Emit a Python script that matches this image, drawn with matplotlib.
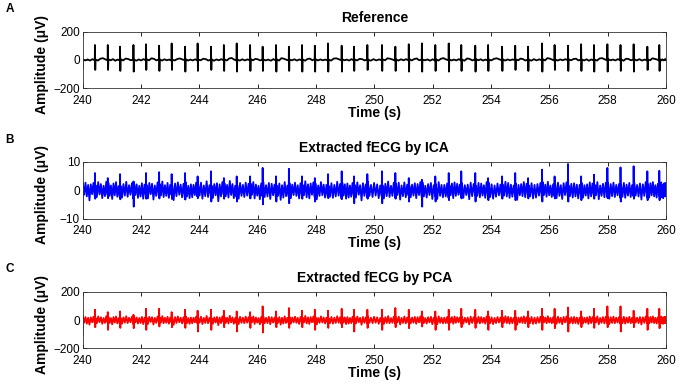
import numpy as np
import matplotlib
matplotlib.use("Agg")
import matplotlib.pyplot as plt

plt.rcParams['font.family'] = ['Liberation Sans', 'DejaVu Sans']

# ---------------- data ----------------
beat_t = [240.42, 240.86, 241.28, 241.74, 242.17, 242.62, 243.05, 243.51, 243.94, 244.40,
          244.84, 245.28, 245.74, 246.17, 246.63, 247.07, 247.52, 247.96, 248.41, 248.88,
          249.30, 249.76, 250.26, 250.72, 251.18, 251.63, 252.09, 252.55, 252.98, 253.46,
          253.90, 254.38, 254.83, 255.27, 255.75, 256.18, 256.64, 257.09, 257.53, 257.99,
          258.44, 258.89, 259.36, 259.77]

# Panel A: reference (uV)
ref_R = [106, 106, 94, 106, 111, 101, 117, 94, 117, 94, 106, 117, 106, 94, 106, 94, 106, 101, 117, 101, 94, 106,
         106, 94, 111, 117, 106, 117, 106, 101, 106, 94, 101, 94, 117, 106, 101, 111, 106, 111, 106, 111, 94, 106]
ref_S = [-70, -70, -77, -82, -70, -77, -70, -82, -77, -70, -77, -82, -77, -77, -82, -77, -82, -82, -82, -82, -77, -70,
         -77, -77, -82, -82, -77, -82, -77, -82, -77, -77, -70, -77, -82, -70, -77, -77, -82, -82, -77, -82, -70, -77]
ref_start, ref_end = -60, 5
ref_wig = [
    [5, -3, 4, -4, 6, -2], [3, -4, 9, 13, 5, -3], [4, -2, 6, -5, 3, -4], [6, -3, 10, 7, -2, 4],
    [3, -5, 4, -3, 6, -2], [5, -2, 12, 8, -3, 5], [4, -4, 5, -2, 3, -5], [2, -3, 7, 11, 4, -2],
    [6, -4, 3, -3, 5, -4], [3, -2, 9, 6, -4, 3], [5, -5, 4, -2, 6, -3], [4, -3, 11, 14, 3, -4],
    [3, -4, 5, -3, 4, -2], [6, -2, 8, 5, -3, 4], [4, -3, 3, -5, 6, -3], [5, -4, 13, 9, 2, -4],
    [3, -2, 5, -4, 4, -3], [4, -5, 7, 10, -2, 5], [6, -3, 4, -2, 3, -4], [3, -4, 10, 12, 5, -2],
    [5, -2, 3, -4, 6, -3], [4, -3, 8, 6, -3, 4], [3, -5, 6, -3, 4, -2], [5, -2, 12, 9, 3, -4],
    [4, -4, 5, -2, 6, -3], [6, -3, 7, 11, -2, 3], [3, -2, 4, -5, 5, -4], [5, -4, 9, 13, 4, -2],
    [4, -3, 3, -3, 6, -3], [3, -5, 11, 7, -3, 5], [6, -2, 5, -4, 3, -4], [4, -3, 8, 12, 5, -3],
    [5, -4, 4, -2, 4, -2], [3, -2, 10, 6, -4, 4], [4, -5, 6, -3, 5, -3], [6, -3, 13, 10, 3, -4],
    [3, -4, 4, -2, 6, -2], [5, -2, 7, 9, -3, 3], [4, -3, 5, -5, 4, -4], [3, -4, 11, 13, 5, -3],
    [6, -2, 3, -3, 6, -2], [4, -5, 9, 7, -2, 4], [5, -3, 6, -4, 3, -3], [3, -2, 12, 8, 4, -4],
    [4, -4, 5, -3, 5, -2]]

# Panel B: ICA (uV)
ica_R = [6.1, 4.3, 5.7, 3.1, 6.1, 6.4, 5.7, 6.1, 4.9, 6.7, 4.3, 4.9, 4.9, 7.9, 4.9, 7.6, 4.9, 4.3, 5.7, 6.7, 4.9, 5.7,
         6.7, 6.1, 4.3, 3.7, 4.9, 6.1, 6.7, 6.1, 4.3, 4.9, 6.1, 4.3, 7.3, 4.9, 9.3, 4.9, 5.5, 7.9, 8.1, 8.5, 6.7, 6.9]
ica_S = [-3.0, -2.8, -3.2, -5.8, -3.0, -2.9, -3.1, -3.3, -2.8, -4.0, -3.0, -4.0, -2.9, -5.0, -4.0, -4.6, -3.0, -4.0,
         -2.8, -3.1, -4.6, -3.0, -4.6, -3.0, -4.0, -5.8, -4.0, -3.5, -2.9, -4.0, -3.5, -3.0, -3.5, -2.9, -4.0, -2.9,
         -4.0, -3.5, -3.0, -2.8, -4.0, -3.0, -3.5, -3.5]
ica_start, ica_end = -8.0, -1.0
ica_wig = [
    [2.4, -1.6, 2.7, -2.2, 1.9, -3.6, 2.1, -1.4, 2.6, -2.0], [1.8, -2.4, 2.9, -1.5, 2.2, -2.8, 1.6, -2.1, 3.0, -1.7],
    [2.6, -2.0, 1.7, -3.1, 2.4, -1.8, 2.9, -2.3, 1.5, -2.6], [1.5, -2.6, 2.2, -1.9, 3.0, -2.3, 1.8, -1.6, 2.5, -2.9],
    [2.8, -1.7, 2.1, -2.7, 1.6, -2.2, 2.5, -3.0, 2.0, -1.8], [1.9, -2.9, 2.6, -1.4, 2.3, -3.3, 1.7, -2.0, 2.8, -2.2],
    [2.2, -1.8, 3.1, -2.4, 1.8, -2.0, 2.6, -2.7, 1.9, -1.6], [1.7, -3.5, 2.4, -2.1, 2.8, -1.6, 2.0, -2.5, 2.3, -2.9],
    [2.9, -2.2, 1.6, -2.8, 2.1, -2.5, 1.9, -1.7, 2.7, -2.3], [2.0, -1.9, 2.7, -3.0, 1.7, -2.1, 3.2, -2.4, 1.8, -2.0],
    [1.6, -2.7, 2.2, -1.8, 2.5, -3.9, 2.1, -2.2, 2.9, -1.5], [2.5, -2.1, 1.9, -2.6, 3.3, -1.7, 2.2, -2.8, 1.6, -2.4],
    [1.8, -3.0, 2.6, -2.0, 1.9, -2.4, 2.7, -1.9, 2.3, -2.6], [2.3, -1.6, 2.9, -2.9, 2.0, -1.9, 1.6, -3.2, 2.4, -2.1],
    [3.0, -2.4, 1.8, -2.2, 2.6, -3.1, 2.3, -1.8, 2.0, -2.7], [1.7, -2.0, 2.4, -3.4, 1.8, -2.6, 2.9, -2.1, 1.7, -2.3],
    [2.6, -2.8, 2.0, -1.7, 2.7, -2.0, 1.8, -2.9, 2.5, -1.9], [1.9, -1.8, 3.2, -2.5, 2.1, -2.9, 2.4, -1.6, 2.8, -2.4],
    [2.4, -3.2, 1.7, -2.0, 2.9, -1.8, 2.0, -2.6, 1.9, -2.2], [1.6, -2.3, 2.5, -2.7, 1.9, -2.2, 3.0, -1.9, 2.2, -3.0],
    [2.7, -1.9, 2.1, -3.0, 2.4, -2.6, 1.7, -2.3, 2.6, -1.8], [2.0, -2.6, 2.8, -1.6, 1.8, -3.6, 2.5, -2.0, 2.1, -2.5],
    [2.9, -2.0, 1.9, -2.4, 2.6, -1.9, 2.1, -2.8, 1.7, -2.2], [1.8, -2.9, 2.3, -2.1, 3.1, -2.4, 1.6, -2.0, 2.7, -2.6],
    [2.2, -1.7, 2.7, -3.3, 1.7, -2.1, 2.8, -2.5, 2.0, -1.9], [1.7, -2.5, 2.0, -1.9, 2.5, -2.8, 2.2, -1.7, 2.9, -2.3],
    [2.8, -2.2, 1.6, -2.6, 2.2, -1.7, 2.6, -3.1, 1.8, -2.0], [2.1, -3.1, 2.9, -2.0, 1.9, -2.5, 1.9, -2.2, 2.4, -2.7],
    [1.9, -1.8, 2.4, -2.8, 2.8, -2.0, 2.3, -1.6, 2.0, -2.4], [2.5, -2.7, 1.8, -1.7, 2.0, -3.2, 2.7, -2.1, 2.2, -1.8],
    [1.6, -2.0, 2.6, -2.5, 2.4, -1.9, 1.8, -2.7, 2.9, -2.2], [2.7, -2.4, 2.1, -3.0, 1.7, -2.3, 2.4, -1.8, 2.0, -2.6],
    [2.0, -1.9, 3.0, -2.2, 2.6, -2.7, 2.0, -2.3, 1.7, -2.0], [2.4, -3.4, 1.9, -1.8, 2.2, -2.1, 2.9, -2.5, 2.3, -1.7],
    [1.8, -2.2, 2.5, -2.9, 1.9, -2.6, 2.2, -1.9, 2.6, -2.8], [2.9, -1.7, 2.0, -2.3, 3.0, -1.8, 1.7, -2.4, 2.1, -2.1],
    [2.2, -2.8, 2.7, -2.0, 1.8, -3.1, 2.5, -1.7, 2.8, -2.4], [1.7, -2.1, 2.3, -2.6, 2.5, -2.2, 2.0, -2.9, 1.9, -2.0],
    [2.6, -2.6, 1.8, -1.9, 2.1, -2.9, 2.8, -2.2, 2.4, -1.8], [2.0, -1.8, 2.9, -3.2, 1.7, -2.0, 2.3, -2.5, 2.7, -2.3],
    [2.5, -3.0, 2.2, -2.1, 2.7, -2.4, 1.9, -1.8, 2.2, -2.7], [1.9, -2.3, 2.6, -2.7, 2.0, -1.9, 2.6, -2.4, 1.8, -2.1],
    [2.8, -1.9, 1.9, -2.2, 2.4, -3.3, 2.1, -2.0, 2.9, -2.5], [2.1, -2.6, 2.5, -1.8, 2.9, -2.2, 1.8, -2.6, 2.3, -1.9],
    [2.3, -2.0, 2.8, -2.5, 1.9, -2.8, 2.4, -2.1, 2.6, -2.2]]

# Panel C: PCA (uV)
pca_R = [74, 57, 62, 38, 81, 81, 57, 74, 67, 74, 67, 62, 57, 98, 62, 86, 67, 74, 67, 81, 74, 74,
         74, 86, 74, 62, 62, 74, 81, 74, 62, 67, 67, 62, 81, 81, 90, 62, 81, 98, 98, 67, 81, 81]
pca_S = [-50, -69, -55, -57, -69, -45, -50, -55, -81, -69, -50, -81, -55, -88, -50, -55, -50, -69, -55, -50, -81, -55,
         -69, -50, -57, -45, -69, -69, -50, -55, -69, -50, -69, -50, -69, -57, -81, -50, -55, -50, -81, -50, -69, -57]
pca_start, pca_end = -110, -20
pca_wig = [
    [30, -18, 22, -25, 17, -32, 20, -15, 24, -21], [16, -22, 27, -14, 21, -26, 15, -20, 28, -17],
    [24, -19, 15, -30, 22, -17, 26, -23, 14, -25], [14, -25, 20, -18, 28, -21, 17, -15, 23, -27],
    [26, -16, 19, -24, 15, -20, 23, -28, 18, -17], [18, -27, 24, -13, 21, -31, 16, -19, 26, -20],
    [20, -17, 29, -22, 17, -19, 24, -25, 18, -15], [15, -33, 22, -20, 26, -15, 18, -23, 21, -27],
    [27, -21, 15, -26, 19, -23, 17, -16, 25, -22], [18, -18, 25, -28, 16, -20, 30, -22, 17, -19],
    [15, -25, 20, -17, 23, -36, 19, -21, 27, -14], [23, -20, 17, -24, 31, -16, 20, -26, 15, -22],
    [17, -28, 24, -19, 18, -22, 25, -18, 21, -24], [21, -15, 27, -27, 19, -18, 15, -30, 22, -20],
    [28, -22, 17, -21, 24, -29, 21, -17, 19, -25], [16, -19, 22, -32, 17, -24, 27, -20, 16, -21],
    [24, -26, 19, -16, 25, -19, 17, -27, 23, -18], [18, -17, 30, -23, 20, -27, 22, -15, 26, -22],
    [22, -30, 16, -19, 27, -17, 19, -24, 18, -20], [15, -21, 23, -25, 18, -20, 28, -18, 20, -28],
    [25, -18, 20, -28, 22, -24, 16, -21, 24, -17], [19, -24, 26, -15, 17, -33, 23, -19, 20, -23],
    [27, -19, 18, -22, 24, -18, 20, -26, 16, -20], [17, -27, 21, -20, 29, -22, 15, -19, 25, -24],
    [20, -16, 25, -31, 16, -20, 26, -23, 19, -18], [16, -23, 19, -18, 23, -26, 21, -16, 27, -21],
    [26, -21, 15, -24, 21, -16, 24, -29, 17, -19], [20, -29, 27, -19, 18, -23, 18, -21, 22, -25],
    [18, -17, 22, -26, 26, -19, 21, -15, 19, -22], [23, -25, 17, -16, 19, -30, 25, -20, 21, -17],
    [15, -19, 24, -23, 22, -18, 17, -25, 27, -21], [25, -22, 20, -28, 16, -21, 22, -17, 19, -24],
    [19, -18, 28, -21, 24, -25, 19, -22, 16, -19], [22, -32, 18, -17, 21, -20, 27, -23, 21, -16],
    [17, -21, 23, -27, 18, -24, 21, -18, 24, -26], [27, -16, 19, -22, 28, -17, 16, -22, 20, -20],
    [21, -26, 25, -19, 17, -29, 23, -16, 26, -22], [16, -20, 21, -24, 23, -21, 19, -27, 18, -19],
    [24, -24, 17, -18, 20, -27, 26, -21, 22, -17], [19, -17, 27, -30, 16, -19, 22, -23, 25, -21],
    [23, -28, 21, -20, 25, -22, 18, -17, 21, -25], [18, -22, 24, -25, 19, -18, 24, -22, 17, -20],
    [26, -18, 18, -21, 22, -31, 20, -19, 27, -23], [20, -24, 23, -17, 27, -21, 17, -24, 21, -18],
    [22, -19, 26, -23, 18, -26, 22, -20, 24, -21]]

# ---------------- helpers ----------------
def build_trace(R, S, wig, start, end):
    edges = [240.0] + beat_t + [260.0]
    xs, ys = [240.0], [start]
    for i in range(len(edges) - 1):
        a = edges[i] + (0.02 if i > 0 else 0.004)
        b = edges[i + 1] - (0.006 if i < len(beat_t) else 0.004)
        vals = wig[i]
        xs.extend(np.linspace(a, b, len(vals)))
        ys.extend(vals)
        if i < len(beat_t):
            t = beat_t[i]
            xs.extend([t, t + 0.01])
            ys.extend([R[i], S[i]])
    xs.append(260.0)
    ys.append(end)
    return np.array(xs), np.array(ys)


panels = [
    dict(title="Reference", R=ref_R, S=ref_S, wig=ref_wig, start=ref_start, end=ref_end,
         color="black", ylim=(-200, 200), yticks=[-200, 0, 200], letter="A"),
    dict(title="Extracted fECG by ICA", R=ica_R, S=ica_S, wig=ica_wig, start=ica_start, end=ica_end,
         color="#0000ff", ylim=(-10, 10), yticks=[-10, 0, 10], letter="B"),
    dict(title="Extracted fECG by PCA", R=pca_R, S=pca_S, wig=pca_wig, start=pca_start, end=pca_end,
         color="#ff0000", ylim=(-200, 200), yticks=[-200, 0, 200], letter="C"),
]

W, H = 680, 387
fig = plt.figure(figsize=(W / 100, H / 100), dpi=100)

ax_left, ax_right = 82.7, 666.0
tops = [31.7, 162.0, 292.0]
bots = [88.3, 218.5, 348.3]
letter_y = [9.5, 140.0, 269.5]

for p, top, bot, ly in zip(panels, tops, bots, letter_y):
    ax = fig.add_axes([ax_left / W, 1 - bot / H, (ax_right - ax_left) / W, (bot - top) / H])
    x, y = build_trace(p["R"], p["S"], p["wig"], p["start"], p["end"])
    ax.plot(x, y, color=p["color"], lw=1.3)
    ax.set_xlim(240, 260)
    ax.set_ylim(*p["ylim"])
    ax.set_xticks(np.arange(240, 261, 2))
    ax.set_yticks(p["yticks"])
    ax.tick_params(direction="in", length=3, width=0.6, top=True, right=True,
                   labelsize=8.5, pad=2)
    ax.tick_params(axis="x", pad=5)
    for s in ax.spines.values():
        s.set_linewidth(0.6)
        s.set_color("#333333")
    ax.set_title(p["title"], fontsize=10, fontweight="bold", pad=7)
    ax.set_xlabel("Time (s)", fontsize=10, fontweight="bold")
    ax.xaxis.set_label_coords(0.5, -0.31)
    ax.set_ylabel("Amplitude (μV)", fontsize=10, fontweight="bold")
    ax.yaxis.set_label_coords(-0.058, 0.42)
    fig.text(10 / W, 1 - ly / H, p["letter"], fontsize=8.5, fontweight="bold",
             ha="center", va="center")

fig.savefig("out.png", dpi=100)
